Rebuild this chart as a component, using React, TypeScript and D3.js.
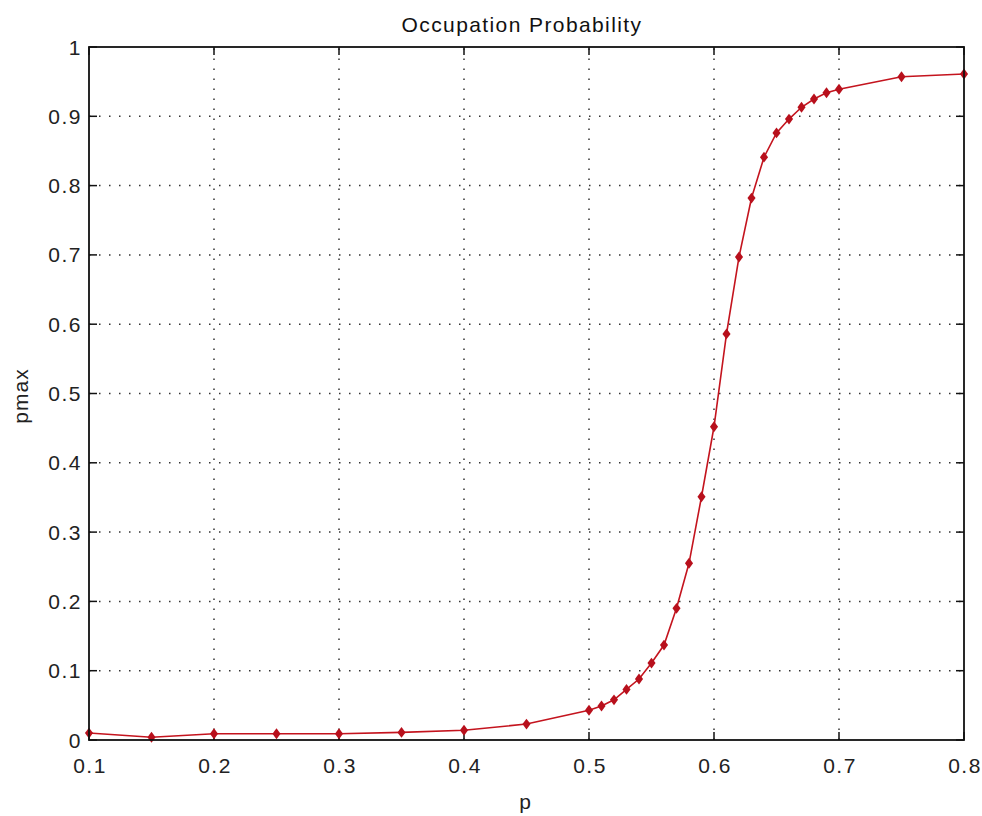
import React from "react";
import * as d3 from "d3";

const pValues = [0.1, 0.15, 0.2, 0.25, 0.3, 0.35, 0.4, 0.45, 0.5, 0.51, 0.52, 0.53, 0.54, 0.55, 0.56, 0.57, 0.58, 0.59, 0.6, 0.61, 0.62, 0.63, 0.64, 0.65, 0.66, 0.67, 0.68, 0.69, 0.7, 0.75, 0.8];
const pmaxValues = [0.01, 0.004, 0.009, 0.009, 0.009, 0.011, 0.014, 0.023, 0.043, 0.049, 0.058, 0.073, 0.088, 0.111, 0.137, 0.19, 0.255, 0.351, 0.452, 0.586, 0.697, 0.782, 0.841, 0.876, 0.896, 0.913, 0.925, 0.934, 0.939, 0.957, 0.961];
const xTicks = [0.1, 0.2, 0.3, 0.4, 0.5, 0.6, 0.7, 0.8];
const yTicks = [0, 0.1, 0.2, 0.3, 0.4, 0.5, 0.6, 0.7, 0.8, 0.9, 1];

const W = 982;
const H = 816;
const left = 89, right = 964, top = 47, bottom = 740;
const font = "'Liberation Sans', Arial, sans-serif";

export default function App() {
  const x = d3.scaleLinear().domain([0.1, 0.8]).range([left, right]);
  const y = d3.scaleLinear().domain([0, 1]).range([bottom, top]);
  const pts = pValues.map((p, i) => [p, pmaxValues[i]] as [number, number]);
  const line = d3.line<[number, number]>().x(d => x(d[0])).y(d => y(d[1]));
  const diamond = d3.symbol().type(d3.symbolDiamond).size(34)();
  const tick = 8;

  return (
    <svg width={W} height={H} style={{ position: "absolute", left: 0, top: 0, background: "#fff" }}>
      <rect x={0} y={0} width={W} height={H} fill="#fff" />
      {/* grid */}
      <g stroke="#333" strokeWidth={1.5} strokeDasharray="1.5,8.5">
        {xTicks.slice(1, -1).map(t => (
          <line key={"gx" + t} x1={x(t)} x2={x(t)} y1={bottom} y2={top} />
        ))}
        {yTicks.slice(1, -1).map(t => (
          <line key={"gy" + t} x1={left} x2={right} y1={y(t)} y2={y(t)} />
        ))}
      </g>
      {/* ticks */}
      <g stroke="#111" strokeWidth={1.5}>
        {xTicks.map(t => (
          <g key={"tx" + t}>
            <line x1={x(t)} x2={x(t)} y1={bottom} y2={bottom - tick} />
            <line x1={x(t)} x2={x(t)} y1={top} y2={top + tick} />
          </g>
        ))}
        {yTicks.map(t => (
          <g key={"ty" + t}>
            <line x1={left} x2={left + tick} y1={y(t)} y2={y(t)} />
            <line x1={right} x2={right - tick} y1={y(t)} y2={y(t)} />
          </g>
        ))}
      </g>
      {/* data */}
      <path d={line(pts) || ""} fill="none" stroke="#c4141e" strokeWidth={1.6} />
      {pts.map((d, i) => (
        <path key={i} d={diamond} transform={`translate(${x(d[0])},${y(d[1])}) scale(1.3,1)`} fill="#b8101c" />
      ))}
      {/* frame */}
      <rect x={left} y={top} width={right - left} height={bottom - top} fill="none" stroke="#111" strokeWidth={1.8} />
      {/* tick labels */}
      <g fontFamily={font} fontSize={21} fill="#222" letterSpacing={1.5}>
        {xTicks.map(t => (
          <text key={"lx" + t} x={x(t) + 1} y={773} textAnchor="middle">{d3.format("")(t)}</text>
        ))}
        {yTicks.map(t => (
          <text key={"ly" + t} x={82} y={y(t) + 7.5} textAnchor="end">{d3.format("")(t)}</text>
        ))}
      </g>
      <text x={522} y={32} textAnchor="middle" fontFamily={font} fontSize={21} letterSpacing={1.4} fill="#111">Occupation Probability</text>
      <text x={525} y={809} textAnchor="middle" fontFamily={font} fontSize={21} fill="#222">p</text>
      <text transform="translate(28,396) rotate(-90)" textAnchor="middle" fontFamily={font} fontSize={21} letterSpacing={1} fill="#222">pmax</text>
    </svg>
  );
}
